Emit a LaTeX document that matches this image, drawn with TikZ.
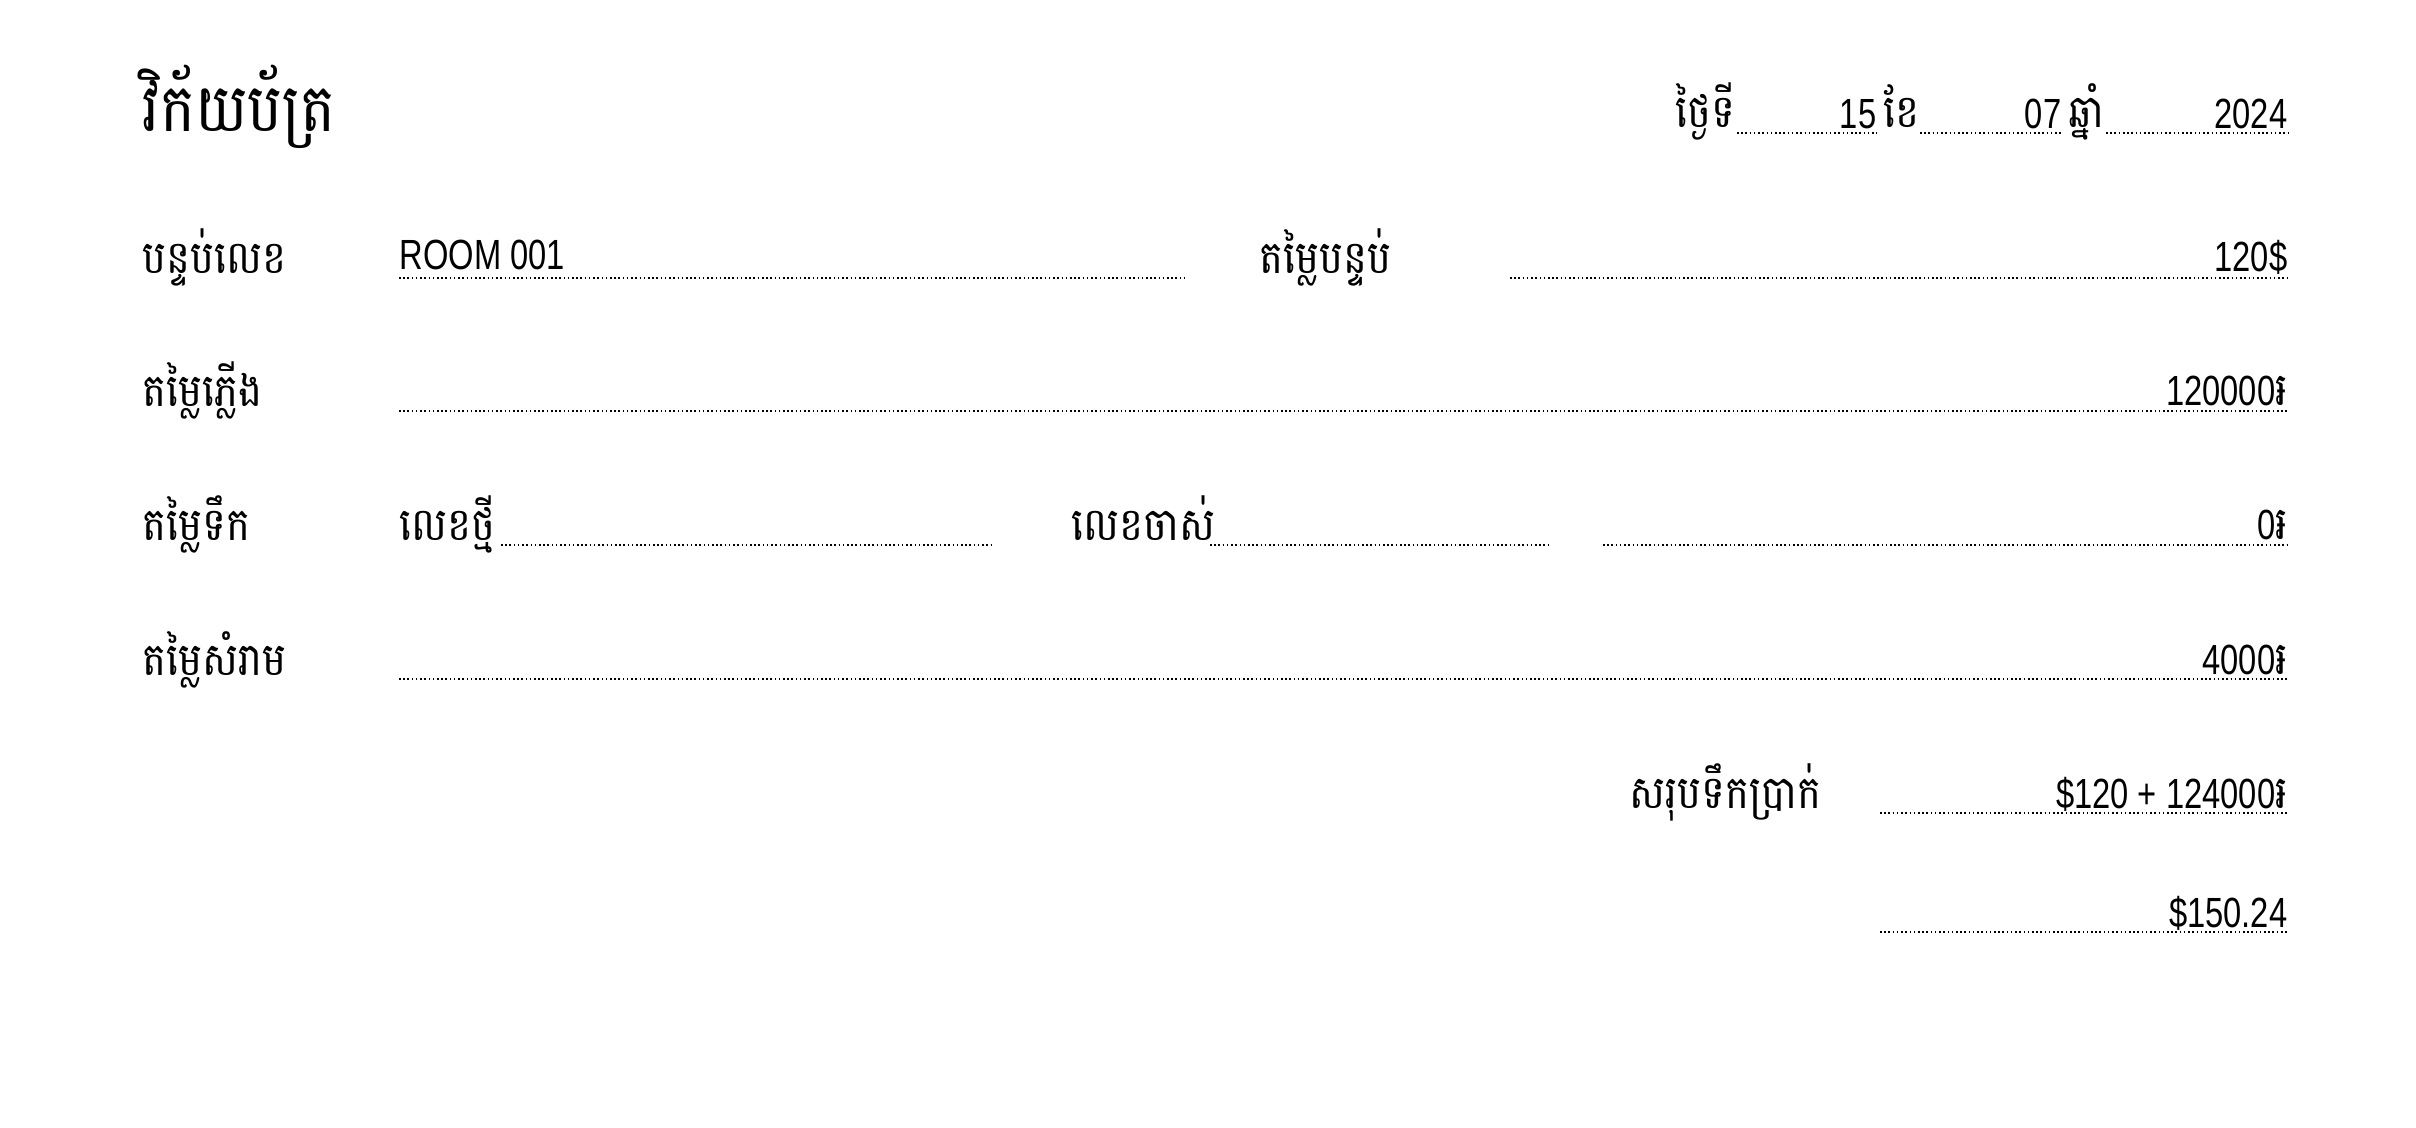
\documentclass[tikz,border=0pt]{standalone}
\usepackage{fontspec}
\setmainfont[Script=Khmer,FakeStretch=0.88]{Battambang}
\newfontfamily\latin[FakeStretch=0.775]{Liberation Sans}
\usetikzlibrary{arrows}
\begin{document}
\begin{tikzpicture}[x=0.01cm,y=-0.01cm]
\tikzstyle{every node}=[inner sep=0pt, font=\fontsize{13}{15}\selectfont]
\tikzstyle{lab}=[anchor=base west]
\tikzstyle{val}=[anchor=base east]
\tikzstyle{dots}=[line width=0.45pt, dash pattern=on 0.45pt off 0.75pt]
\newcommand{\num}[1]{{\latin\fontsize{12}{14}\selectfont #1}}
\useasboundingbox (0,0) rectangle (2416,1128);
% heading
\draw (142,132) node (title) [lab, font=\fontsize{19}{22}\selectfont] {វិក័យប័ត្រ};
\draw (1675,128) node (day) [lab] {ថ្ងៃទី};
\draw (1877,129) node (dayv) [val] {\num{15}};
\draw (1883,128) node (month) [lab] {ខែ};
\draw (2062,129) node (monthv) [val] {\num{07}};
\draw (2068,128) node (year) [lab] {ឆ្នាំ};
\draw (2288,129) node (yearv) [val] {\num{2024}};
\coordinate (d0) at (1737,133); \coordinate (d1) at (1877,133);
\coordinate (m0) at (1920,133); \coordinate (m1) at (2062,133);
\coordinate (y0) at (2106,133); \coordinate (y1) at (2288,133);
\draw[dots] (d0) -- (d1);
\draw[dots] (m0) -- (m1);
\draw[dots] (y0) -- (y1);
% room
\draw (142,274) node (room) [lab] {បន្ទប់លេខ};
\draw (399,270) node (roomv) [lab] {\num{ROOM 001}};
\draw (1259,274) node (rent) [lab] {តម្លៃបន្ទប់};
\draw (2288,272) node (rentv) [val] {\num{120\$}};
\coordinate (r0) at (399,278); \coordinate (r1) at (1184,278);
\coordinate (p0) at (1510,278); \coordinate (p1) at (2288,278);
\draw[dots] (r0) -- (r1);
\draw[dots] (p0) -- (p1);
% electricity
\draw (142,407) node (elec) [lab] {តម្លៃភ្លើង};
\draw (2288,406) node (elecv) [val] {\num{120000}៛};
\coordinate (e0) at (399,411); \coordinate (e1) at (2288,411);
\draw[dots] (e0) -- (e1);
% water
\draw (142,541) node (water) [lab] {តម្លៃទឹក};
\draw (399,541) node (new) [lab] {លេខថ្មី};
\draw (1071,541) node (old) [lab] {លេខចាស់};
\draw (2288,540) node (waterv) [val] {\num{0}៛};
\coordinate (n0) at (501,545); \coordinate (n1) at (994,545);
\coordinate (o0) at (1210,545); \coordinate (o1) at (1549,545);
\coordinate (w0) at (1603,545); \coordinate (w1) at (2288,545);
\draw[dots] (n0) -- (n1);
\draw[dots] (o0) -- (o1);
\draw[dots] (w0) -- (w1);
% trash
\draw (142,675) node (trash) [lab] {តម្លៃសំរាម};
\draw (2288,674) node (trashv) [val] {\num{4000}៛};
\coordinate (t0) at (399,679); \coordinate (t1) at (2288,679);
\draw[dots] (t0) -- (t1);
% total
\draw (1629,808) node (total) [lab] {សរុបទឹកប្រាក់};
\draw (2288,808) node (totalv) [val] {\num{\$120 + 124000}៛};
\draw (2288,927) node (sumv) [val] {\num{\$150.24}};
\coordinate (s0) at (1880,813); \coordinate (s1) at (2288,813);
\coordinate (u0) at (1880,932); \coordinate (u1) at (2288,932);
\draw[dots] (s0) -- (s1);
\draw[dots] (u0) -- (u1);
\end{tikzpicture}
\end{document}
